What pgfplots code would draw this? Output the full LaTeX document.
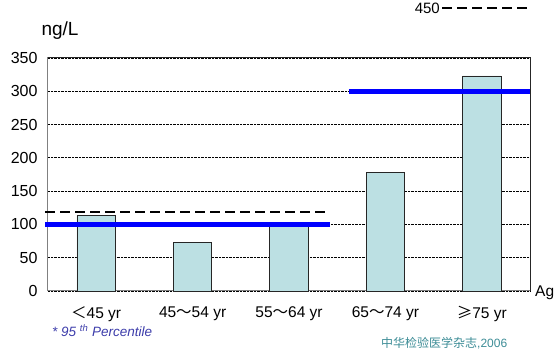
\documentclass[border=0pt]{standalone}
\usepackage{pgfplots}
\pgfplotsset{compat=1.18}
\usepackage{fontspec}
\setmainfont{Liberation Sans}
\newfontfamily\cjk{Noto Sans CJK SC}
\definecolor{barfill}{RGB}{188,224,227}
\definecolor{pctblue}{RGB}{60,60,170}
\definecolor{srcteal}{RGB}{60,140,150}
\begin{document}
\begin{tikzpicture}
\useasboundingbox (-48pt,-67pt) rectangle (506pt,291pt);
\begin{axis}[
  at={(0pt,0pt)}, anchor=south west,
  scale only axis, width=482pt, height=233pt,
  xmin=-0.5, xmax=4.5, ymin=0, ymax=350,
  ytick={0,50,...,350},
  xtick={0,1,2,3,4},
  xticklabels={{\cjk ＜}45 yr, 45{\cjk ～}54 yr, 55{\cjk ～}64 yr, 65{\cjk ～}74 yr, {\cjk ≥}75 yr},
  extra x ticks={0.5,1.5,2.5,3.5},
  extra x tick labels={},
  extra x tick style={major tick length=4pt, tick style={gray}, tick align=inside, grid=none},
  x tick style={draw=none},
  y tick style={draw=none},
  xticklabel style={font=\fontsize{15.5}{15.5}\selectfont, yshift=-12pt},
  yticklabel style={font=\fontsize{16}{16}\selectfont, xshift=-7pt},
  /pgf/number format/assume math mode=true,
  ymajorgrids, grid style={densely dotted, black, line width=0.8pt},
  axis line style={gray, line width=1pt},
  clip=false,
]
\addplot[ybar, bar width=0.4, fill=barfill, draw=black!85, line width=0.8pt]
  coordinates {(0,114) (1,73) (2,101) (3,178) (4,323)};
\addplot[black, line width=2pt, dash pattern=on 10pt off 5pt] coordinates {(-0.53,118) (2.425,118)};
\addplot[blue, line width=5pt] coordinates {(-0.53,100) (2.425,100)};
\addplot[blue, line width=5pt] coordinates {(2.62,300) (4.5,300)};
\draw[black!85, line width=1pt] (rel axis cs:0,1) -- (rel axis cs:1,1) -- (rel axis cs:1,0);
\end{axis}
\node[anchor=center, font=\fontsize{19}{19}\selectfont] at (12pt,260pt) {ng/L};
\node[anchor=west, font=\fontsize{15.5}{15.5}\selectfont, inner sep=0pt] at (487pt,-2pt) {Ag};
\node[anchor=east, font=\fontsize{15}{15}\selectfont, inner sep=0pt] at (392pt,283pt) {450};
\draw[black, line width=1.4pt, dash pattern=on 10pt off 5pt] (394pt,283pt) -- (479pt,283pt);
\node[anchor=west, font=\fontsize{13.5}{13.5}\selectfont\itshape, text=pctblue, inner sep=0pt] at (4pt,-40pt) {* 95 \textsuperscript{th} Percentile};
\node[anchor=west, font=\fontsize{12}{12}\selectfont, text=srcteal, inner sep=0pt] at (333pt,-52pt) {{\cjk 中华检验医学杂志}{,2006}};
\end{tikzpicture}
\end{document}
